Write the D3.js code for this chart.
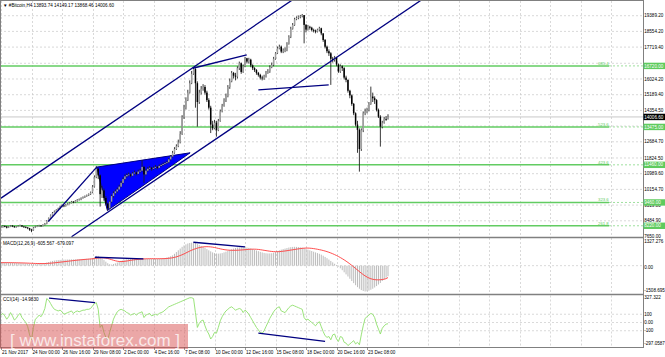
<!DOCTYPE html>
<html lang="en">
<head>
<meta charset="UTF-8">
<title>#Bitcoin,H4</title>
<script src="https://d3js.org/d3.v7.min.js"></script>
<style>
  body { margin: 0; background: #fff; }
  svg text { font-family: "Liberation Sans", Arial, sans-serif; }
</style>
</head>
<body>
<script>
// ---- data (H4 bars, 21 Nov 08:00 -> 25 Dec 04:00) ----
const firstOpen = 8120;
const closes = [
  8150,8210,8180,8120,8170,8230,8190,8150,8170,8210,8240,8180,8160,8130,8090,8010,7980,8120,8180,8200,8230,8210,8260,8330,
  8480,8620,8780,8900,8980,9060,9140,9240,9300,9270,9340,9390,9440,9500,9470,9540,9600,9620,9690,9740,9790,9840,9900,9990,10300,10800,11250,10900,9900,10100,9700,9400,9150,
  9500,9800,9950,10050,10150,10300,10500,10700,10850,10920,10950,10880,11000,11050,10980,11100,11150,11350,10950,11150,11250,11300,11250,11300,11350,11300,11400,11450,11500,11550,11600,11750,11900,12100,12300,12450,12650,13100,
  14000,14500,14900,15300,15800,16300,16550,15800,14800,15300,15500,15600,15300,14900,14500,13600,13400,13700,13300,13800,14300,14600,14900,15100,15600,15900,16340,16200,16150,16600,16860,16400,16700,17126,16950,17050,16750,16600,16500,16350,16240,16100,16060,16150,16350,16420,16650,16770,17100,17390,17650,17740,17480,17550,17560,17900,18270,18700,18900,19200,19280,19340,19380,19420,18900,18650,18800,18750,18630,18600,18540,18650,18720,18450,18100,17740,17500,17390,17100,17036,17150,16800,16420,16700,16600,16100,15974,15400,15150,14700,14200,13600,13320,12300,13300,14200,14300,14380,14700,15090,15000,14900,14380,14020,13490,13700,13900,13893.74,14006.6
];
const highs = [
  8200,8250,8240,8210,8200,8260,8250,8210,8200,8240,8280,8260,8210,8190,8150,8110,8060,8160,8220,8240,8270,8260,8300,8370,
  8520,8660,8820,8950,9030,9100,9180,9290,9350,9330,9380,9430,9480,9540,9530,9580,9640,9670,9730,9780,9830,9880,9940,10040,10380,10900,11400,11300,10950,10350,10200,9800,9450,
  9550,9880,10050,10150,10250,10400,10600,10800,10950,11000,11050,11000,11080,11150,11100,11200,11250,11700,11400,11250,11350,11400,11350,11380,11450,11400,11480,11520,11580,11620,11680,11820,11980,12200,12400,12550,12800,13250,
  14100,14650,15050,15450,15950,16450,16650,16600,15900,15450,15650,15750,15700,15400,15000,14600,13800,13850,13800,13900,14400,14700,15000,15250,15700,16050,16450,16400,16350,16700,16950,16900,16800,17200,17150,17150,17100,16800,16650,16550,16400,16300,16200,16250,16450,16550,16750,16900,17200,17450,17750,17850,17800,17650,17700,17980,18350,18800,19000,19280,19350,19400,19430,19480,19420,18950,18900,18850,18800,18700,18650,18700,18800,18750,18450,18150,17800,17600,17450,17200,17250,17200,16850,16800,16750,16650,16200,16000,15450,15200,14750,14250,13800,13400,13400,14300,14450,14500,14800,15620,15300,15100,14950,14450,14100,13800,14000,14050,14149.17
];
const lows = [
  8090,8120,8140,8080,8100,8150,8150,8110,8120,8150,8190,8150,8120,8090,8040,7950,7880,7960,8100,8150,8170,8180,8190,8240,
  8300,8450,8600,8760,8880,8940,9020,9100,9200,9210,9240,9310,9360,9410,9420,9440,9500,9560,9580,9660,9700,9760,9800,9860,9950,10250,10750,10700,9240,9700,9550,9300,9030,
  9100,9450,9720,9880,9980,10100,10250,10450,10650,10780,10850,10800,10850,10950,10900,10950,11050,11100,10500,10900,11100,11180,11150,11200,11250,11220,11280,11350,11400,11450,11500,11550,11700,11850,12050,12250,12400,12600,
  13050,13900,14400,14850,15250,15750,16250,14500,13490,14700,15200,15400,15200,14800,14400,13150,13300,13350,12960,13250,13750,14250,14550,14800,15050,15500,15850,16050,15950,16050,16500,16300,16350,16650,16850,16850,16650,16500,16400,16250,16150,16000,15950,15980,16100,16300,16350,16600,16700,17050,17350,17600,17400,17400,17450,17500,17850,18200,18650,18850,19150,19200,19250,19300,17920,18500,18600,18650,18550,18500,18450,18500,18550,18350,18000,17650,17400,17250,15710,16900,16950,16700,16350,16350,16450,16000,15850,15300,15000,14600,14100,13500,12100,11100,12200,13200,14100,14200,14300,14650,14800,14700,14300,13950,12430,13400,13650,13800,13868.46
];
const macdHist = [
  200,195,190,185,180,175,170,165,160,150,145,140,135,130,120,110,100,100,105,110,115,120,130,150,
  180,210,240,270,290,310,320,330,340,345,350,355,355,360,360,365,370,375,380,385,390,395,400,410,440,500,560,
  560,470,400,320,230,140,80,60,
  90,130,180,230,280,320,350,370,380,390,395,400,400,405,410,420,410,400,400,400,395,390,390,395,400,410,420,440,470,500,540,590,
  680,780,880,980,1080,1160,1220,1270,1300,1320,1327,
  1300,1240,1180,1130,1080,1020,950,880,820,760,720,700,690,700,
  720,760,800,850,900,940,980,1010,1040,1060,1070,1060,1050,1040,1020,
  990,950,910,870,830,790,760,730,710,700,700,710,
  740,780,830,880,920,950,980,1010,1040,1060,1075,1080,1075,1065,1050,1030,1000,960,
  920,880,840,800,760,720,680,630,570,500,430,350,270,190,110,40,-50,-150,-260,-380,
  -500,-620,-750,-880,-1000,-1120,-1230,-1320,-1400,-1450,-1480,-1470,-1430,-1380,-1320,-1250,-1170,-1080,-990,-880,-780,-690,-605.567
];
const macdSignal = [
  170,172,173,173,172,171,170,168,166,163,160,157,154,150,146,141,136,131,127,124,122,121,121,123,
  127,134,142,152,163,175,187,200,213,226,239,252,265,278,291,303,315,326,337,347,357,366,375,384,394,408,425,
  440,448,450,445,432,410,380,345,
  310,280,255,240,235,240,252,268,287,305,322,337,350,362,372,380,387,392,396,398,399,399,398,398,398,399,401,405,412,422,435,452,
  475,505,540,580,625,675,728,782,835,885,930,
  970,1005,1035,1058,1075,1085,1088,1085,1075,1060,1040,1015,990,965,
  940,920,905,893,885,880,878,880,884,890,898,906,915,925,935,
  942,946,945,940,930,915,898,880,862,845,828,815,
  805,800,800,805,815,828,842,858,875,893,910,928,945,962,978,993,1003,1008,
  1008,1002,992,978,960,940,918,895,868,838,805,768,727,682,633,581,525,465,400,332,
  260,183,102,17,-70,-160,-250,-340,-428,-510,-585,-650,-705,-748,-780,-800,-810,-812,-806,-793,-775,-745,-679.097
];
const cci = [
  90,110,80,40,70,120,80,30,50,90,110,60,30,0,-50,-150,-210,-60,40,60,90,70,110,170,
  290,270,230,190,160,150,140,150,130,100,110,120,130,140,110,130,140,130,140,150,150,160,160,170,200,230,240,
  160,-60,-30,-120,-180,-210,-120,-40,
  40,90,130,150,160,150,140,120,110,90,100,110,90,110,120,130,60,90,100,110,80,90,100,90,110,120,130,150,170,190,200,210,
  220,230,240,250,260,270,280,290,300,300,290,
  120,-60,-10,20,30,-40,-100,-140,-200,-170,-120,-130,-60,20,
  70,110,140,160,180,190,170,150,160,170,160,120,150,130,100,
  60,20,-20,-60,-90,-120,-130,-100,-50,0,50,90,
  130,160,180,190,140,130,120,150,180,200,210,200,190,180,170,160,60,30,
  40,20,0,-20,-40,-10,10,-50,-110,-160,-180,-170,-210,-150,-140,-200,-230,-170,-180,-240,
  -250,-280,-260,-240,-220,-260,-240,-270,-150,-40,50,70,90,110,100,60,-20,-80,-140,-70,-40,-20,-14.983
];

const timeLabels = ["21 Nov 2017","24 Nov 00:00","26 Nov 16:00","29 Nov 08:00","2 Dec 00:00","4 Dec 16:00",
  "7 Dec 08:00","10 Dec 00:00","12 Dec 16:00","15 Dec 08:00","18 Dec 00:00","20 Dec 16:00","23 Dec 08:00"];
const labelStep = 16; // bars between time labels
const priceTicks = [7650.00,8484.90,9319.80,10154.70,10989.60,11824.50,12684.70,13519.60,14354.50,15189.40,16024.20,16859.10,17719.40,18554.20,19389.20];
const hiddenTicks = [13519.60, 16859.10]; // covered by level boxes on the axis
const fibRatios = ["685.4","523.6","423.6","323.6","261.8"];
const fibPrices = [16720.00,13475.00,11460.00,9460.00,8220.00];
const lastPrice = 14006.60;
const macdTicks = [1327.276, 0, -1508.695];
const cciTicks = [327.322, 100, 0, -100, -297.0587];
const cciLevels = [100, 0, -100];

// user-drawn objects as [bar, value] pairs
const priceLines = [
  [[0, 9690], [160, 20720]],      // upper channel
  [[37, 7640], [240, 21560]],     // lower channel
  [[24.8, 8450], [50.2, 11339]],
  [[100.6, 16595], [128.9, 17302]],
  [[135, 15442], [171.9, 15708]]
];
const wedge = [[50.2, 11339], [55.8, 9031], [99.2, 12100]];
const macdLines = [[[49.3, 481], [74.7, 384]], [[100.9, 1341], [128, 1071]]];
const cciLines = [[[25.2, 295], [49.3, 242]], [[135, -128], [170, -230]]];

// ---- layout ----
const W = 665, H = 357, axisX = 643;
const pane = { price: [1, 237], macd: [238, 294.5], cci: [295.5, 347] };
const fs = 4.6;
const labelX = 644.2;

const x = d3.scaleLinear().domain([0, 203]).range([1, 388]);
const yP = d3.scaleLinear().domain([7650, 19389.2]).range([236.5, 15.7]);
const yM = d3.scaleLinear().domain([-1508.695, 1327.276]).range([292, 242.5]);
const yC = d3.scaleLinear().domain([-297.0587, 327.322]).range([347, 295.5]);

const svg = d3.select("body").append("svg").attr("width", W).attr("height", H);
svg.append("rect").attr("width", W).attr("height", H).attr("fill", "#fff");

const defs = svg.append("defs");
Object.entries(pane).forEach(([k, [t, b]]) => {
  defs.append("clipPath").attr("id", "clip-" + k)
    .append("rect").attr("x", 0).attr("y", t).attr("width", axisX).attr("height", b - t);
});

// grid
const grid = svg.append("g").attr("stroke", "#c8c8c8").attr("stroke-dasharray", "2,2").attr("stroke-width", 0.7);
const gridBars = d3.range(0, 340, labelStep).filter(i => x(i) < axisX - 2);
Object.values(pane).forEach(([t, b]) => {
  grid.selectAll(null).data(gridBars).join("line")
    .attr("x1", d => Math.round(x(d)) + 0.5).attr("x2", d => Math.round(x(d)) + 0.5)
    .attr("y1", t).attr("y2", b);
});
grid.selectAll(null).data(priceTicks.slice(1)).join("line")
  .attr("x1", 0).attr("x2", axisX).attr("y1", d => yP(d)).attr("y2", d => yP(d));
grid.selectAll(null).data([0]).join("line")
  .attr("x1", 0).attr("x2", axisX).attr("y1", d => yM(d)).attr("y2", d => yM(d));
grid.selectAll(null).data(cciLevels).join("line")
  .attr("x1", 0).attr("x2", axisX).attr("y1", d => yC(d)).attr("y2", d => yC(d));

// price pane
const gP = svg.append("g").attr("clip-path", "url(#clip-price)");

// fibonacci levels
gP.selectAll("line.fib").data(fibPrices).join("line")
  .attr("x1", 0).attr("x2", 609).attr("y1", d => yP(d)).attr("y2", d => yP(d))
  .attr("stroke", "#62cc62").attr("stroke-width", 1.5);
gP.selectAll("line.fibd").data(fibPrices).join("line")
  .attr("x1", 609).attr("x2", axisX).attr("y1", d => yP(d)).attr("y2", d => yP(d))
  .attr("stroke", "#9fe09f").attr("stroke-width", 1).attr("stroke-dasharray", "2,2");
gP.selectAll("text.fib").data(fibPrices).join("text")
  .attr("x", 598).attr("y", d => yP(d) - 1.2).attr("font-size", fs - 0.3).attr("fill", "#62cc62")
  .text((d, i) => fibRatios[i]);

// last price line
gP.append("line").attr("x1", 0).attr("x2", axisX).attr("y1", yP(lastPrice)).attr("y2", yP(lastPrice))
  .attr("stroke", "#c8c8c8").attr("stroke-width", 1);

// wedge
gP.append("path")
  .attr("d", d3.line().x(d => x(d[0])).y(d => yP(d[1])).curve(d3.curveLinearClosed)(wedge))
  .attr("fill", "#0000ff").attr("stroke", "#000080").attr("stroke-width", 1);

// candles
const bars = closes.map((c, i) => ({ i, o: i ? closes[i - 1] : firstOpen, h: highs[i], l: lows[i], c }));
gP.selectAll("line.wick").data(bars).join("line")
  .attr("x1", d => x(d.i)).attr("x2", d => x(d.i))
  .attr("y1", d => yP(d.h)).attr("y2", d => yP(d.l))
  .attr("stroke", "#222").attr("stroke-width", 0.9);
gP.selectAll("rect.body").data(bars).join("rect")
  .attr("x", d => x(d.i) - 0.75).attr("width", 1.5)
  .attr("y", d => yP(Math.max(d.o, d.c)))
  .attr("height", d => Math.max(0.8, Math.abs(yP(d.o) - yP(d.c))))
  .attr("fill", d => d.c >= d.o ? "#a0a0a0" : "#000");

// trend lines
const lineP = d3.line().x(d => x(d[0])).y(d => yP(d[1]));
gP.selectAll("path.tl").data(priceLines).join("path")
  .attr("d", lineP).attr("fill", "none").attr("stroke", "#000080").attr("stroke-width", 1.3);

// MACD pane
const gM = svg.append("g").attr("clip-path", "url(#clip-macd)");
gM.selectAll("rect").data(macdHist).join("rect")
  .attr("x", (d, i) => x(i) - 0.5).attr("width", 1)
  .attr("y", d => Math.min(yM(0), yM(d)))
  .attr("height", d => Math.abs(yM(d) - yM(0)))
  .attr("fill", "#bcbcbc");
gM.append("path")
  .attr("d", d3.line().x((d, i) => x(i)).y(d => yM(d))(macdSignal))
  .attr("fill", "none").attr("stroke", "#ff3b3b").attr("stroke-width", 0.9);
gM.selectAll("path.tl").data(macdLines).join("path")
  .attr("d", d3.line().x(d => x(d[0])).y(d => yM(d[1])))
  .attr("fill", "none").attr("stroke", "#000080").attr("stroke-width", 1.3);

// CCI pane
const gC = svg.append("g").attr("clip-path", "url(#clip-cci)");
gC.append("path")
  .attr("d", d3.line().x((d, i) => x(i)).y(d => yC(d))(cci))
  .attr("fill", "none").attr("stroke", "#8fe06c").attr("stroke-width", 0.9);
gC.selectAll("path.tl").data(cciLines).join("path")
  .attr("d", d3.line().x(d => x(d[0])).y(d => yC(d[1])))
  .attr("fill", "none").attr("stroke", "#000080").attr("stroke-width", 1.3);

// frames
const frame = svg.append("g").attr("stroke", "#808080").attr("fill", "none");
frame.append("rect").attr("x", 0.5).attr("y", 0.5).attr("width", axisX).attr("height", 347);
[237.5, 294.5].forEach(v => frame.append("line").attr("x1", 0).attr("x2", axisX + 0.5)
  .attr("y1", v).attr("y2", v).attr("stroke-width", 1.5));

// right axis labels
const axisG = svg.append("g").attr("font-size", fs);
function axisLabels(vals, scale, fmt, adjust) {
  axisG.selectAll(null).data(vals).join("text")
    .attr("x", labelX).attr("y", (d, i) => scale(d) + 1.6 + adjust(d, i))
    .text(fmt);
}
axisLabels(priceTicks.filter(d => !hiddenTicks.includes(d)), yP, d => d.toFixed(2), () => 0);
axisLabels(macdTicks, yM, d => d === 0 ? "0.00" : d.toFixed(3), (d, i) => i === 0 ? -0.8 : (i === 2 ? -1.3 : 1.5));
axisLabels(cciTicks, yC, d => d === 0 ? "0.00" : String(d),
  (d, i) => i === 0 ? 2.2 : (i === 4 ? -3.7 : 0));

// axis boxes (fib prices and last price)
const boxes = fibPrices.map(p => ({ p, fill: "#5ecb5e" })).concat([{ p: lastPrice, fill: "#000" }]);
const boxG = svg.append("g");
boxG.selectAll("rect").data(boxes).join("rect")
  .attr("x", axisX + 0.5).attr("y", d => yP(d.p) - 3.2).attr("width", W - axisX).attr("height", 6.4)
  .attr("fill", d => d.fill);
boxG.selectAll("text").data(boxes).join("text")
  .attr("x", labelX).attr("y", d => yP(d.p) + 1.6).attr("font-size", fs).attr("fill", "#fff")
  .text(d => d.p.toFixed(2));

// indicator captions
svg.append("text").attr("x", 3).attr("y", 7).attr("font-size", fs)
  .text("\u25BC #Bitcoin,H4  13893.74 14149.17 13868.46 14006.60");
svg.append("text").attr("x", 3).attr("y", 244.5).attr("font-size", fs)
  .text("MACD(12,26,9) -605.567 -679.097");
svg.append("text").attr("x", 3).attr("y", 301).attr("font-size", fs)
  .text("CCI(14) -14.9830");

// watermark
const wm = svg.append("g");
wm.append("rect").attr("x", 0).attr("y", 324).attr("width", 188).attr("height", 25)
  .attr("fill", "#d85050").attr("opacity", 0.5);
wm.append("text").attr("x", 10).attr("y", 346).attr("font-size", 17)
  .attr("font-family", "Open Sans, sans-serif").attr("fill", "#fff").attr("opacity", 0.75)
  .text("[  www.instaforex.com ]");

// time axis
const tG = svg.append("g").attr("font-size", fs);
tG.selectAll("line").data(timeLabels).join("line")
  .attr("x1", (d, i) => Math.round(x(i * labelStep)) + 0.5).attr("x2", (d, i) => Math.round(x(i * labelStep)) + 0.5)
  .attr("y1", 347.5).attr("y2", 350).attr("stroke", "#555").attr("stroke-width", 0.6);
tG.selectAll("text").data(timeLabels).join("text")
  .attr("x", (d, i) => x(i * labelStep) + 1).attr("y", 353.5)
  .text(d => d);
</script>
</body>
</html>
